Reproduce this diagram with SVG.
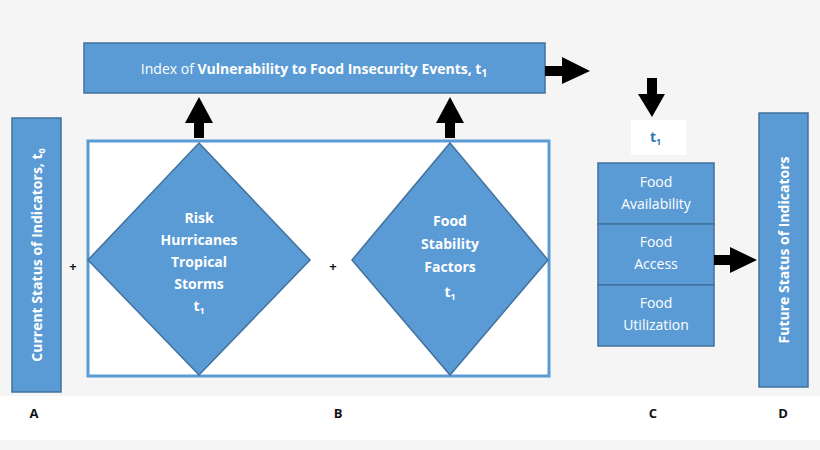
<svg xmlns="http://www.w3.org/2000/svg" width="820" height="450" viewBox="0 0 820 450">
<style>
.b{fill:#5b9bd5;stroke:#41719c;stroke-width:1.5}
.t{font-family:"Open Sans","Liberation Sans",sans-serif;fill:#fff;font-size:14px;text-anchor:middle}
.l{font-family:"Open Sans","Liberation Sans",sans-serif;font-weight:bold;font-size:13px;fill:#111;text-anchor:middle}
.a{fill:#000}
</style>
<rect width="820" height="450" fill="#f5f5f5"/>
<rect x="0" y="396" width="820" height="44" fill="#fff"/>
<g id="index"><rect class="b" x="84" y="43" width="461" height="50"/>
<text class="t" x="314" y="74" font-size="15">Index of <tspan font-weight="bold">Vulnerability to Food Insecurity Events, t<tspan font-size="10" dy="3">1</tspan></tspan></text></g>
<g id="current"><rect class="b" x="12" y="118" width="49" height="274"/>
<text class="t" transform="translate(42,255) rotate(-90)" font-weight="bold">Current Status of Indicators, t<tspan font-size="9" dy="3">0</tspan></text></g>
<g id="boxB"><rect x="88" y="141" width="461" height="235" fill="#fff" stroke="#5b9bd5" stroke-width="3"/></g>
<g id="risk"><polygon class="b" points="199,143 310,260 199,375 88,260"/>
<text class="t" font-weight="bold"><tspan x="199" y="223">Risk</tspan><tspan x="199" y="245">Hurricanes</tspan><tspan x="199" y="267">Tropical</tspan><tspan x="199" y="289">Storms</tspan><tspan x="199" y="311">t<tspan font-size="9" dy="3">1</tspan></tspan></text></g>
<g id="stability"><polygon class="b" points="450,143 548,260 450,375 352,260"/>
<text class="t" font-weight="bold"><tspan x="450" y="226">Food</tspan><tspan x="450" y="249">Stability</tspan><tspan x="450" y="272">Factors</tspan><tspan x="450" y="297">t<tspan font-size="9" dy="3">1</tspan></tspan></text></g>
<g id="plus"><text class="l" x="73" y="271" font-size="26">+</text><text class="l" x="333" y="271" font-size="26">+</text></g>
<g id="t1"><rect x="631" y="120" width="55" height="35" fill="#fff"/>
<text x="650" y="142" font-family="Open Sans,Liberation Sans,sans-serif" font-weight="bold" font-size="14" fill="#2e75b6">t<tspan font-size="9" dy="3">1</tspan></text></g>
<g id="food"><rect class="b" x="598" y="163" width="116" height="61"/><rect class="b" x="598" y="224" width="116" height="61"/><rect class="b" x="598" y="285" width="116" height="61"/>
<text class="t"><tspan x="656" y="187">Food</tspan><tspan x="656" y="209">Availability</tspan><tspan x="656" y="247">Food</tspan><tspan x="656" y="269">Access</tspan><tspan x="656" y="308">Food</tspan><tspan x="656" y="330">Utilization</tspan></text></g>
<g id="future"><rect class="b" x="759" y="113" width="49" height="274"/>
<text class="t" transform="translate(789,250) rotate(-90)" font-weight="bold">Future Status of Indicators</text></g>
<g id="connectors">
<polygon class="a" points="545,66 562,66 562,57 590,71 562,84 562,76 545,76"/>
<polygon class="a" points="194,138 194,123 185,123 199,97 213,123 204,123 204,138"/>
<polygon class="a" points="445,138 445,123 436,123 450,97 464,123 455,123 455,138"/>
<polygon class="a" points="647,78 657,78 657,94 665,94 652,117 638,94 647,94"/>
<polygon class="a" points="714,255 730,255 730,247 757,260 730,273 730,265 714,265"/>
</g>
<g id="labels"><text class="l" x="34" y="418">A</text><text class="l" x="338" y="418">B</text><text class="l" x="653" y="418">C</text><text class="l" x="783" y="418">D</text></g>
</svg>
